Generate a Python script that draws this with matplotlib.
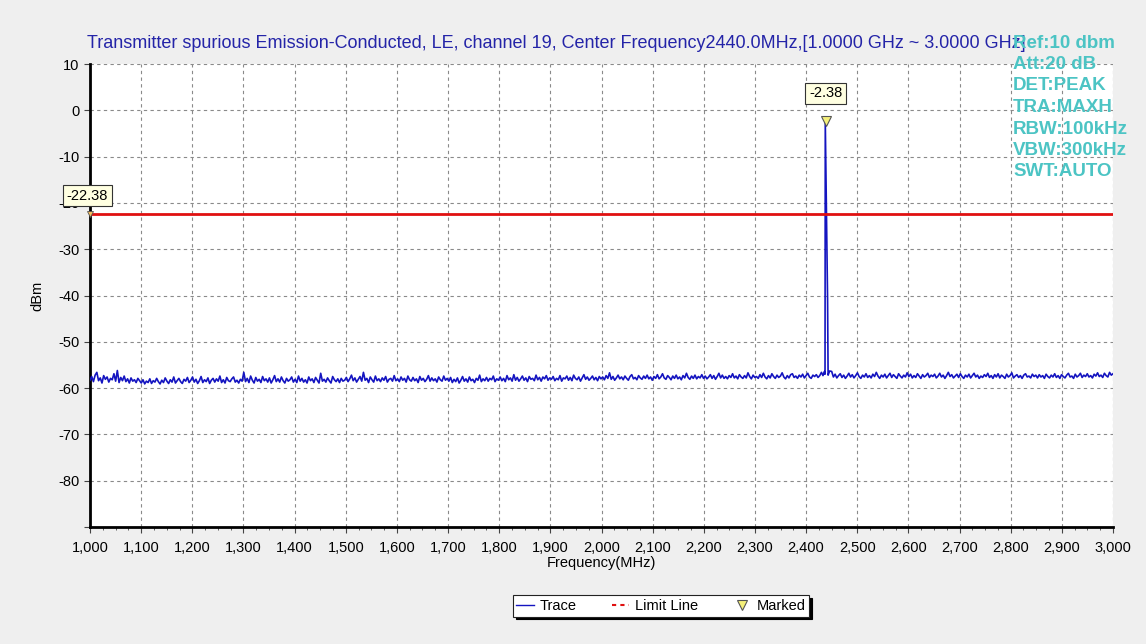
import numpy as np
import matplotlib
matplotlib.use("Agg")
import matplotlib.pyplot as plt
from matplotlib.ticker import MultipleLocator, FuncFormatter
from matplotlib.lines import Line2D

plt.rcParams['font.family'] = ['Liberation Sans', 'DejaVu Sans']

title = "Transmitter spurious Emission-Conducted, LE, channel 19, Center Frequency2440.0MHz,[1.0000 GHz ~ 3.0000 GHz]"
info_lines = ["Ref:10 dbm", "Att:20 dB", "DET:PEAK", "TRA:MAXH", "RBW:100kHz", "VBW:300kHz", "SWT:AUTO"]

# noise floor, 1000 - 2430 MHz (dBm)
noise_1000 = [-58.3,-57.5,-58.6,-57.2,-56.6,-58.4,-57.8,-58.9,-57.3,-58.1,-57.6,-58.7,-57.9,-58.2,-56.9,-58.5,-56.2,-58.8,-57.7,-58.4,-57.4,-58.6,-58.0,-58.9,-57.8,-58.5,-58.2,-58.8,-57.9,-58.4]
noise_1100 = [-58.9,-58.2,-59.1,-58.5,-58.8,-58.0,-59.0,-58.4,-58.7,-57.9,-58.6,-59.1,-58.3,-58.8,-57.8,-58.5,-59.0,-58.2,-58.7,-57.6,-58.9,-58.4,-57.9,-58.6,-59.0,-58.1,-58.5,-57.7,-58.8,-58.3]
noise_1200 = [-57.6,-58.7,-58.1,-59.0,-58.4,-57.5,-58.8,-58.2,-58.6,-57.8,-59.0,-58.3,-57.9,-58.7,-58.0,-58.5,-57.4,-58.8,-58.2,-58.9,-57.7,-58.4,-58.6,-58.0,-57.6,-58.7,-58.3,-58.9,-58.1,-58.5]
noise_1300 = [-56.6,-58.6,-57.9,-58.8,-57.4,-58.3,-58.9,-57.7,-58.5,-58.1,-58.8,-57.5,-58.4,-58.0,-58.7,-57.8,-58.9,-58.2,-57.3,-58.6,-58.0,-58.7,-57.6,-58.4,-58.9,-57.9,-58.5,-58.2,-57.6,-58.7]
noise_1400 = [-58.1,-58.8,-57.4,-58.5,-57.9,-58.7,-58.2,-58.9,-57.6,-58.4,-58.0,-58.8,-57.7,-58.3,-58.9,-56.8,-58.5,-58.1,-58.7,-57.8,-58.4,-58.9,-57.5,-58.2,-58.6,-58.0,-58.8,-57.9,-58.5,-58.3]
noise_1500 = [-57.7,-58.6,-58.0,-57.2,-58.4,-57.8,-58.7,-58.1,-57.5,-58.5,-56.6,-58.3,-57.9,-58.8,-57.6,-58.2,-58.7,-57.4,-58.4,-58.0,-58.6,-57.8,-58.3,-57.5,-58.7,-58.1,-57.9,-58.5,-57.3,-58.4]
noise_1600 = [-58.0,-58.6,-57.6,-58.3,-57.9,-58.7,-57.4,-58.2,-58.5,-57.7,-58.4,-58.0,-58.8,-57.5,-58.3,-57.9,-58.6,-58.1,-57.3,-58.5,-57.8,-58.4,-58.0,-58.7,-57.6,-58.2,-58.5,-57.4,-58.3,-57.9]
noise_1700 = [-58.5,-57.7,-58.8,-58.1,-58.6,-57.8,-58.9,-58.3,-57.5,-58.5,-58.0,-58.7,-57.6,-58.4,-58.1,-58.8,-57.9,-58.3,-57.2,-58.6,-58.0,-58.4,-57.7,-58.5,-57.9,-58.2,-57.4,-58.6,-58.0,-58.3]
noise_1800 = [-57.6,-58.4,-57.9,-58.6,-57.3,-58.2,-57.8,-58.5,-57.1,-58.3,-57.7,-58.5,-58.0,-57.4,-58.3,-57.8,-58.6,-57.5,-58.1,-57.9,-58.4,-57.2,-58.2,-57.7,-58.5,-57.6,-58.0,-57.3,-58.3,-57.8]
noise_1900 = [-58.1,-57.5,-58.4,-57.9,-58.2,-57.3,-58.5,-57.8,-58.0,-57.4,-58.3,-57.7,-58.4,-57.2,-57.9,-58.2,-57.6,-58.5,-57.8,-57.1,-58.1,-57.6,-58.3,-57.9,-57.4,-58.2,-57.7,-58.4,-57.5,-58.0]
noise_2000 = [-57.6,-58.2,-57.3,-57.9,-56.7,-58.1,-57.5,-58.3,-57.8,-57.2,-58.0,-57.6,-58.2,-57.4,-57.9,-58.3,-57.5,-57.1,-58.0,-57.7,-58.2,-57.3,-57.8,-58.1,-57.4,-57.9,-57.2,-58.0,-57.6,-58.3]
noise_2100 = [-57.5,-57.9,-57.1,-58.0,-57.6,-56.9,-57.8,-58.1,-57.3,-57.7,-58.2,-57.4,-57.9,-57.2,-58.0,-57.6,-58.2,-57.3,-57.8,-56.8,-57.7,-58.1,-57.4,-57.9,-57.2,-58.0,-57.5,-57.8,-57.1,-57.9]
noise_2200 = [-57.4,-58.0,-57.6,-57.1,-57.9,-57.3,-58.1,-57.5,-56.8,-57.8,-57.2,-57.9,-57.5,-58.0,-57.3,-57.7,-56.9,-57.8,-57.4,-58.0,-57.1,-57.6,-57.9,-57.3,-57.8,-56.7,-57.5,-58.0,-57.2,-57.7]
noise_2300 = [-57.5,-57.9,-57.1,-57.7,-56.8,-57.6,-58.0,-57.3,-57.8,-56.9,-57.5,-57.9,-57.2,-57.7,-57.4,-56.7,-57.6,-58.0,-57.3,-57.8,-57.1,-56.9,-57.7,-57.4,-57.9,-57.2,-57.6,-57.0,-57.8,-57.3,-56.8,-57.6,-57.9,-57.2,-57.5,-57.1,-57.7,-57.3,-56.6]

# carrier at 2440 MHz
peak_freq = [2433, 2436, 2437, 2437.5, 2442, 2442.5, 2443, 2446]
peak_level = [-57.3, -56.4, -57.0, -2.38, -41.0, -50.3, -57.2, -56.3]

# noise floor, 2450 - 3000 MHz (dBm)
noise_2450 = [-56.4,-57.6,-57.0,-57.8,-57.3,-56.9,-57.7,-57.2,-57.9,-57.4,-56.8,-57.6,-57.1,-57.8,-57.3,-56.7,-57.5,-57.9,-57.2,-57.6,-56.9,-57.7,-57.3,-57.8,-57.0,-57.5,-56.6,-57.4,-57.9,-57.2]
noise_2550 = [-57.6,-57.0,-57.8,-57.3,-56.8,-57.7,-57.1,-57.5,-57.9,-56.9,-57.4,-57.8,-57.2,-57.6,-56.7,-57.5,-57.0,-57.8,-57.3,-57.7,-56.9,-57.4,-57.9,-57.1,-57.6,-57.3,-56.8,-57.7,-57.2,-57.5]
noise_2650 = [-57.0,-57.8,-57.4,-56.8,-57.6,-57.2,-57.9,-57.3,-56.6,-57.5,-57.1,-57.8,-57.4,-57.0,-57.7,-56.9,-57.5,-57.9,-57.2,-57.6,-57.0,-57.8,-57.3,-56.8,-57.6,-57.2,-57.9,-57.4,-57.7,-57.1]
noise_2750 = [-57.5,-56.8,-57.7,-57.3,-57.9,-57.1,-57.6,-56.9,-57.8,-57.2,-57.5,-57.9,-57.0,-57.6,-57.3,-56.7,-57.8,-57.4,-57.1,-57.7,-57.3,-57.9,-57.2,-56.9,-57.6,-57.4,-57.8,-57.0,-57.5,-57.2]
noise_2850 = [-57.8,-57.1,-57.6,-57.3,-57.9,-57.0,-57.5,-57.8,-57.2,-57.6,-56.9,-57.7,-57.3,-57.9,-57.1,-57.5,-57.8,-57.2,-56.8,-57.6,-57.4,-57.9,-57.0,-57.6,-57.3,-56.8,-57.7,-57.2,-57.5,-56.9,-57.6,-57.3,-57.8,-57.0,-57.4,-56.7,-57.5,-57.2,-57.7,-56.8,-57.3,-57.6,-56.6,-57.2,-56.9]

limit_level = -22.38
peak_marker = (2438, -2.38)
limit_marker = (1000, -22.38)

noise_left = (noise_1000 + noise_1100 + noise_1200 + noise_1300 + noise_1400 + noise_1500 + noise_1600
              + noise_1700 + noise_1800 + noise_1900 + noise_2000 + noise_2100 + noise_2200 + noise_2300)
noise_right = noise_2450 + noise_2550 + noise_2650 + noise_2750 + noise_2850
left_freq = np.linspace(1000, 2430, len(noise_left))
right_freq = np.linspace(2450, 3000, len(noise_right))
freq = np.concatenate([left_freq, peak_freq, right_freq])
level = np.concatenate([noise_left, peak_level, noise_right])

bg = '#efefef'
fig = plt.figure(figsize=(11.46, 6.44), dpi=100, facecolor=bg)
ax = fig.add_axes([90/1146, 1-527/644, (1113-90)/1146, (527-64)/644])
ax.set_facecolor('white')

ax.plot(freq, level, color='#1414c0', lw=1.2, zorder=3)
ax.plot([1000, 3000], [limit_level, limit_level], color='#e01010', lw=2, zorder=4)

ax.set_xlim(1000, 3000)
ax.set_ylim(-90, 10)
ax.xaxis.set_major_locator(MultipleLocator(100))
ax.xaxis.set_minor_locator(MultipleLocator(25))
ax.yaxis.set_major_locator(MultipleLocator(10))
ax.xaxis.set_major_formatter(FuncFormatter(lambda v, p: f"{int(round(v)):,}"))
ax.yaxis.set_major_formatter(FuncFormatter(lambda v, p: "" if v < -85 else f"{int(round(v))}"))
ax.grid(True, which='major', color='#8a8a8a', ls=(0, (3, 3)), lw=0.8, zorder=1)
for s in ['top', 'right']:
    ax.spines[s].set_visible(False)
for s in ['left', 'bottom']:
    ax.spines[s].set_linewidth(2)
    ax.spines[s].set_color('black')
ax.tick_params(axis='both', which='major', labelsize=10.5, length=4, width=0.8, color='#444444')
ax.tick_params(axis='x', which='major', pad=6)
ax.tick_params(axis='x', which='minor', length=2.5, width=0.6, color='#444444')
ax.set_xlabel("Frequency(MHz)", fontsize=10.5, labelpad=1)
ax.set_ylabel("dBm", fontsize=10.5, labelpad=10)

fig.text(87/1146, 1-44/644, title, color='#2424a8', fontsize=13, va='center', ha='left')
for i, t in enumerate(info_lines):
    fig.text(1013/1146, 1-(43 + i*21.5)/644, t, color='#4cc4c4', fontsize=13.5, fontweight='bold', va='center', ha='left')

bbox = dict(boxstyle='square,pad=0.25', fc='#ffffe1', ec='#333333', lw=0.8)
ax.plot(*peak_marker, marker='v', ms=7, mfc='#f5f07a', mec='#555555', mew=0.8, zorder=6, clip_on=False)
ax.plot(*limit_marker, marker='v', ms=4, mfc='#f5c060', mec='#555555', mew=0.6, zorder=6, clip_on=False)
ax.annotate(f"{peak_marker[1]:.2f}", xy=peak_marker, xytext=(0, 15), textcoords='offset points',
            ha='center', va='bottom', fontsize=10.5, bbox=bbox, zorder=7, annotation_clip=False)
ax.annotate(f"{limit_marker[1]:.2f}", xy=limit_marker, xytext=(-2, 8), textcoords='offset points',
            ha='center', va='bottom', fontsize=10.5, bbox=bbox, zorder=7, annotation_clip=False)

handles = [Line2D([], [], color='#1414c0', lw=1),
           Line2D([], [], color='#e01010', lw=1.5, ls=(0, (2, 2))),
           Line2D([], [], color='none', marker='v', ms=7, mfc='#f5f07a', mec='#555555', mew=0.8)]
leg = fig.legend(handles, ['Trace', 'Limit Line', 'Marked'], loc='center', bbox_to_anchor=(661/1146, 1-606/644),
                 ncol=3, fontsize=10.5, frameon=True, fancybox=False, shadow={'color': 'black', 'alpha': 1},
                 edgecolor='#222222', handlelength=1.2, handletextpad=0.4, columnspacing=2.4,
                 borderpad=0.25, borderaxespad=0)
leg.get_frame().set_linewidth(0.8)

fig.savefig('out.png', dpi=100, facecolor=bg)
